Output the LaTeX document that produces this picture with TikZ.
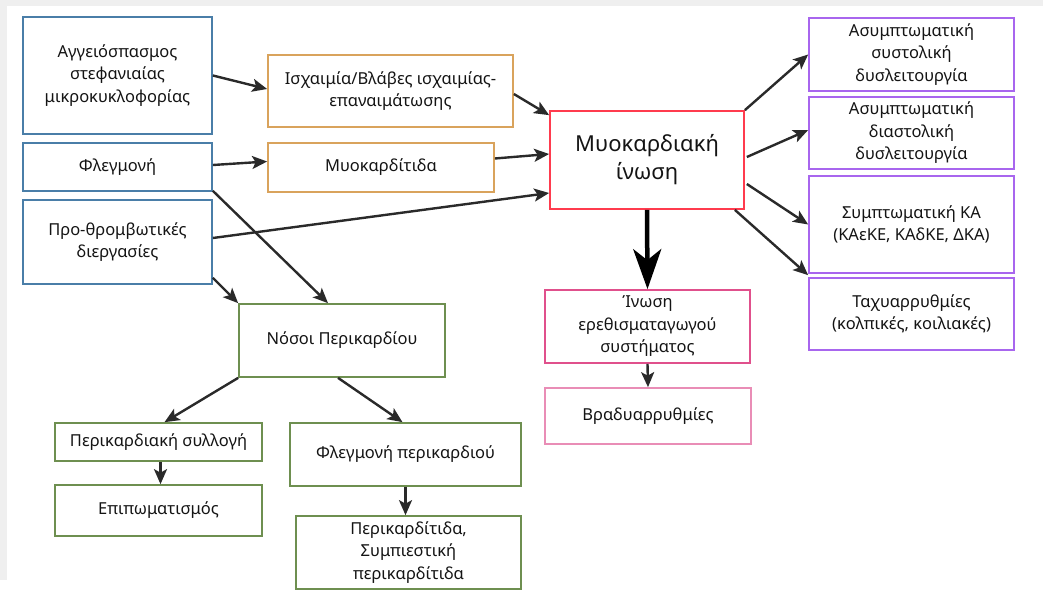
\documentclass[tikz,border=0pt]{standalone}
\usepackage{fontspec}
\setmainfont{Noto Sans}
\usetikzlibrary{arrows.meta,calc}

\definecolor{bluebox}{HTML}{4A7EA8}
\definecolor{tanbox}{HTML}{D9A35C}
\definecolor{redbox}{HTML}{FF3B4E}
\definecolor{purplebox}{HTML}{A866EE}
\definecolor{pinkbox}{HTML}{E0508C}
\definecolor{lightpink}{HTML}{E98DB6}
\definecolor{greenbox}{HTML}{6E8F50}
\definecolor{arrowgray}{HTML}{2A2A2A}
\definecolor{txt}{HTML}{141414}
\definecolor{frame}{HTML}{EFEFEF}

\tikzset{
  box/.style={draw, line width=1.7pt, fill=white, rectangle, align=center,
    inner sep=0pt, text=txt,
    font=\fontsize{16.5}{22.5}\selectfont},
  bluenode/.style={box, draw=bluebox},
  tannode/.style={box, draw=tanbox},
  rednode/.style={box, draw=redbox, font=\fontsize{22}{28}\selectfont},
  purplenode/.style={box, draw=purplebox},
  pinknode/.style={box, draw=pinkbox},
  lpinknode/.style={box, draw=lightpink},
  greennode/.style={box, draw=greenbox},
  link/.style={draw=arrowgray, line width=2.4pt,
    -{Stealth[length=15pt,width=13pt,inset=3.5pt]}},
  biglink/.style={draw=black, line width=4.5pt,
    -{Stealth[length=40pt,width=28pt,inset=11pt]}},
}

\begin{document}
\begin{tikzpicture}[x=1pt,y=-1pt]
\useasboundingbox (0,0) rectangle (1043,592);
% soft grey margin along the top and left edges
\fill[frame] (0,0) rectangle (1043,6);
\fill[frame] (0,0) rectangle (7,580);

% causes
\node[bluenode, minimum width=189, minimum height=117] (a1) at (117.5,75.5)
  {Αγγειόσπασμος\\στεφανιαίας\\μικροκυκλοφορίας};
\node[bluenode, minimum width=189, minimum height=48] (fl) at (117.5,167)
  {Φλεγμονή};
\node[bluenode, minimum width=189, minimum height=84] (pt) at (117.5,242)
  {Προ-θρομβωτικές\\διεργασίες};

% intermediate myocardial conditions
\node[tannode, minimum width=245, minimum height=72] (isch) at (390.5,91)
  {Ισχαιμία/Βλάβες ισχαιμίας-\\επαναιμάτωσης};
\node[tannode, minimum width=226, minimum height=49] (myoc) at (381,167.5)
  {Μυοκαρδίτιδα};

% central node
\node[rednode, minimum width=194, minimum height=98] (fib) at (647,160)
  {Μυοκαρδιακή\\ίνωση};

% consequences
\node[purplenode, minimum width=205, minimum height=73] (p1) at (911.5,54.5)
  {Ασυμπτωματική\\συστολική\\δυσλειτουργία};
\node[purplenode, minimum width=205, minimum height=72] (p2) at (911.5,133)
  {Ασυμπτωματική\\διαστολική\\δυσλειτουργία};
\node[purplenode, minimum width=205, minimum height=97] (p3) at (911.5,224.5)
  {Συμπτωματική ΚΑ\\(ΚΑεΚΕ, ΚΑδΚΕ, ΔΚΑ)};
\node[purplenode, minimum width=205, minimum height=72] (p4) at (911.5,314)
  {Ταχυαρρυθμίες\\(κολπικές, κοιλιακές)};

\node[pinknode, minimum width=205, minimum height=73] (cond) at (647.5,326.5)
  {Ίνωση\\ερεθισματαγωγού\\συστήματος};
\node[lpinknode, minimum width=206, minimum height=56] (brady) at (648,416)
  {Βραδυαρρυθμίες};

% pericardial branch
\node[greennode, minimum width=206, minimum height=73] (peri) at (342,340.5)
  {Νόσοι Περικαρδίου};
\node[greennode, minimum width=207, minimum height=38] (eff) at (158.5,442)
  {Περικαρδιακή συλλογή};
\node[greennode, minimum width=207, minimum height=51] (tamp) at (158.5,510.5)
  {Επιπωματισμός};
\node[greennode, minimum width=231, minimum height=63] (infl) at (405.5,454.5)
  {Φλεγμονή περικαρδιού};
\node[greennode, minimum width=225, minimum height=73] (pcard) at (408.5,552.5)
  {Περικαρδίτιδα,\\Συμπιεστική\\περικαρδίτιδα};

% connectors
\draw[link] (a1.east) -- ($(isch.west)+(0,-2)$);
\draw[link] ($(isch.east)+(0,3)$) -- ($(fib.north west)+(0,5)$);
\draw[link] ($(fl.east)+(0,-2)$) -- ($(myoc.west)+(0,-6)$);
\draw[link] ($(myoc.east)+(0,-9)$) -- ($(fib.west)+(0,-6)$);
\draw[link] ($(pt.east)+(0,-4)$) -- ($(fib.west)+(0,33)$);
\draw[link] ($(fl.south east)+(0,-1)$) -- ($(peri.north)+(-14,0)$);
\draw[link] ($(pt.south east)+(0,-7)$) -- (peri.north west);

\draw[biglink] (fib.south) -- (cond.north);
\draw[link] (fib.north east) -- (p1.west);
\draw[link] ($(fib.east)+(2,-3)$) -- ($(p2.west)+(0,-3)$);
\draw[link] ($(fib.east)+(2,24)$) -- (p3.west);
\draw[link] ($(fib.south east)+(-10,0)$) -- ($(p4.north west)+(0,-2)$);
\draw[link] (cond.south) -- (brady.north);

\draw[link] (peri.south west) -- ($(eff.north)+(6,0)$);
\draw[link] ($(peri.south)+(-4,0)$) -- ($(infl.north)+(-3,0)$);
\draw[link] ($(eff.south)+(2,0)$) -- ($(tamp.north)+(2,0)$);
\draw[link] (infl.south) -- (infl.south |- pcard.north);
\end{tikzpicture}
\end{document}
